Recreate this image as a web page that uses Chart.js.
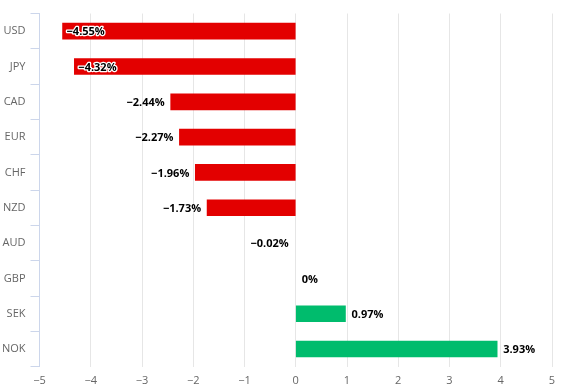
<!DOCTYPE html>
<html>
<head>
<meta charset="utf-8">
<script src="https://cdn.jsdelivr.net/npm/chart.js@4"></script>
<style>
  html, body { margin: 0; padding: 0; background: #fff; }
  #wrap { width: 570px; height: 390px; }
</style>
</head>
<body>
<div id="wrap"><canvas id="fxChart"></canvas></div>
<script>
// currencies and % change
const currencies = ['USD', 'JPY', 'CAD', 'EUR', 'CHF', 'NZD', 'AUD', 'GBP', 'SEK', 'NOK'];
const changes = [-4.55, -4.32, -2.44, -2.27, -1.96, -1.73, -0.02, 0, 0.97, 3.93];
const xTicks = [-5, -4, -3, -2, -1, 0, 1, 2, 3, 4, 5];

const fmt = v => (v < 0 ? '\u2212' + Math.abs(v) : String(v));

// value labels at bar ends (inside the bar when there's no room outside)
const barLabels = {
  id: 'barLabels',
  afterDatasetsDraw(chart) {
    const c = chart.ctx;
    const area = chart.chartArea;
    const meta = chart.getDatasetMeta(0);
    c.save();
    c.font = 'bold 11px "Open Sans", sans-serif';
    c.textBaseline = 'middle';
    c.lineJoin = 'round';
    meta.data.forEach((bar, i) => {
      const v = changes[i];
      const txt = fmt(v) + '%';
      const w = c.measureText(txt).width;
      let x, inside = false;
      if (v < 0) {
        x = bar.x - 6 - w;
        if (x < area.left) { x = bar.x + 4; inside = true; }
      } else {
        x = bar.x + 6;
      }
      c.textAlign = 'left';
      if (inside) {
        c.strokeStyle = '#fff';
        c.lineWidth = 2.5;
        c.strokeText(txt, x, bar.y + 1);
      }
      c.fillStyle = '#000';
      c.fillText(txt, x, bar.y + 1);
    });
    c.restore();
  }
};

const ctx = document.getElementById('fxChart').getContext('2d');
new Chart(ctx, {
  type: 'bar',
  data: {
    labels: currencies,
    datasets: [{
      data: changes,
      // bars under ~1px are not drawn in the original
      backgroundColor: changes.map(v => Math.abs(v) < 0.05 ? 'rgba(0,0,0,0)' : (v < 0 ? '#e30000' : '#00bc6d')),
      borderWidth: 0,
      barThickness: 16
    }]
  },
  options: {
    indexAxis: 'y',
    responsive: true,
    maintainAspectRatio: false,
    animation: false,
    layout: { padding: { top: 13.5, right: 18, left: 0, bottom: 0 } },
    plugins: { legend: { display: false }, tooltip: { enabled: false } },
    scales: {
      x: {
        min: -5, max: 5,
        afterBuildTicks(scale) { scale.ticks = xTicks.map(v => ({ value: v })); },
        afterFit(scale) { scale.height = 23.3; },
        border: { display: false },
        grid: { color: '#e6e6e6', drawTicks: false },
        ticks: {
          padding: 8,
          color: '#666',
          font: { family: '"Open Sans", sans-serif', size: 11 },
          callback: v => fmt(v)
        }
      },
      y: {
        offset: true,
        afterFit(scale) { scale.width = 39.5; },
        border: { display: true, color: '#ccd6eb' },
        grid: { offset: true, drawOnChartArea: false, color: '#ccd6eb', tickLength: 9 },
        ticks: {
          padding: 5,
          color: '#666',
          font: { family: '"Open Sans", sans-serif', size: 11 }
        }
      }
    }
  },
  plugins: [barLabels]
});
</script>
</body>
</html>
